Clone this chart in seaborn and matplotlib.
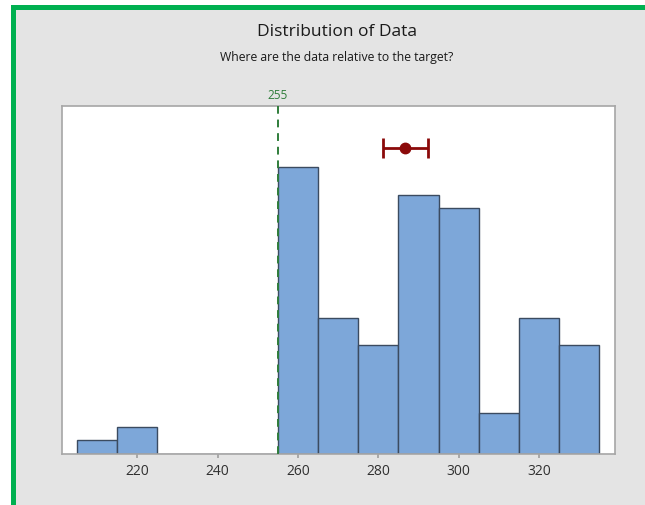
"""Histogram of data with target line and mean confidence interval."""

import matplotlib

matplotlib.use("Agg")

import matplotlib.pyplot as plt
import numpy as np
import seaborn as sns
from matplotlib.patches import Rectangle

# bin edges and counts
BIN_EDGES = [205, 215, 225, 235, 245, 255, 265, 275, 285, 295, 305, 315, 325, 335]
BIN_COUNTS = [1, 2, 0, 0, 0, 21, 10, 8, 19, 18, 3, 10, 8]
X_TICKS = [220, 240, 260, 280, 300, 320]

TARGET = 255
MEAN = 286.6
MEAN_CI = (281.2, 292.4)

TITLE = "Distribution of Data"
SUBTITLE = "Where are the data relative to the target?"

BAR_COLOR = "#7da7d9"
EDGE_COLOR = "#3b4b60"
TARGET_COLOR = "#2f7d3a"
MEAN_COLOR = "#8b0a0a"
PANEL_GREY = "#e4e4e4"
BORDER_GREEN = "#00b050"

sns.set_theme(style="white")
plt.rcParams["font.family"] = ["Open Sans", "DejaVu Sans"]

fig = plt.figure(figsize=(6.45, 5.05), dpi=100, facecolor="white")

# grey panel with green outline, kept behind the axes
fig.patches.append(
    Rectangle(
        (0.0194, -0.01), 1.0, 0.996,
        transform=fig.transFigure, facecolor=PANEL_GREY,
        edgecolor=BORDER_GREEN, linewidth=3.6, zorder=-10,
    )
)

ax = fig.add_axes([0.0961, 0.101, 0.8574, 0.689])
ax.set_facecolor("white")

centers = [(lo + hi) / 2 for lo, hi in zip(BIN_EDGES[:-1], BIN_EDGES[1:])]
sns.histplot(
    x=centers,
    weights=BIN_COUNTS,
    bins=BIN_EDGES,
    color=BAR_COLOR,
    edgecolor=EDGE_COLOR,
    linewidth=1.0,
    alpha=1.0,
    ax=ax,
)

ax.axvline(TARGET, color=TARGET_COLOR, linestyle=(0, (4, 3)), linewidth=1.4, zorder=3)
ax.text(TARGET, 1.012, str(TARGET), transform=ax.get_xaxis_transform(),
        ha="center", va="bottom", color=TARGET_COLOR, fontsize=8.5)

ax.errorbar(
    [MEAN], [22.4],
    xerr=[[MEAN - MEAN_CI[0]], [MEAN_CI[1] - MEAN]],
    fmt="o", color=MEAN_COLOR, markersize=7.5, elinewidth=2,
    capsize=7, capthick=2, zorder=4,
)

ax.set_xlim(201.3, 338.9)
ax.set_ylim(0, 25.5)
ax.set_xticks(X_TICKS)
ax.set_yticks([])
ax.set_xlabel("")
ax.set_ylabel("")
ax.tick_params(axis="x", length=3, color="#a0a0a0", labelsize=10,
               labelcolor="#303030", pad=4, bottom=True)
for spine in ax.spines.values():
    spine.set_color("#a6a6a6")
    spine.set_linewidth(1.2)

fig.text(0.522, 0.936, TITLE, ha="center", va="center", fontsize=12.5, color="#1a1a1a")
fig.text(0.522, 0.886, SUBTITLE, ha="center", va="center", fontsize=8.8, color="#1a1a1a")

fig.savefig("out.png", dpi=100, facecolor=fig.get_facecolor())
